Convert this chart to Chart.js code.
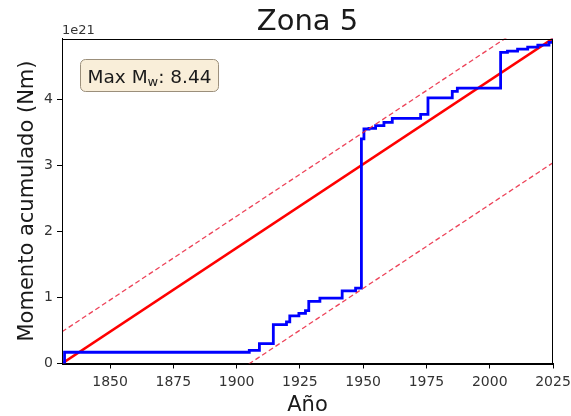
<!DOCTYPE html>
<html><head><meta charset="utf-8">
<script src="https://cdn.jsdelivr.net/npm/chart.js@4/dist/chart.umd.min.js"></script>
<style>html,body{margin:0;padding:0;background:#fff;} canvas{display:block;}</style>
</head><body>
<canvas id="c" width="571" height="416"></canvas>
<script>
// ---- data (moment in units of 1e21 Nm) ----
const stepYears   = [1831, 1832, 1905, 1909, 1914.5, 1919.7, 1921, 1924.6, 1927.2, 1928.5, 1932.9, 1941.7, 1947, 1949.3, 1950.3, 1952.3, 1954.9, 1958.2, 1961.5, 1972.7, 1975.6, 1985.2, 1987.2, 2004.3, 2007, 2011, 2015, 2019, 2023.4, 2025];
const stepMoments = [0, 0.17, 0.20, 0.30, 0.59, 0.63, 0.72, 0.76, 0.80, 0.94, 0.99, 1.10, 1.14, 3.40, 3.55, 3.56, 3.60, 3.65, 3.71, 3.77, 4.02, 4.12, 4.17, 4.71, 4.73, 4.76, 4.79, 4.82, 4.86, 4.92];
const trendYears  = [1831, 2025];
const trendValues = [0, 4.92];
const upperValues = [0.48, 5.40];
const lowerValues = [-1.88, 3.04];
const xTicks = [1850, 1875, 1900, 1925, 1950, 1975, 2000, 2025];
const yTicks = [0, 1, 2, 3, 4];
const titleText = 'Zona 5';
const xLabel = 'Año';
const yLabel = 'Momento acumulado (Nm)';
const offsetText = '1e21';
const boxMain = 'Max M';
const boxSub = 'w';
const boxTail = ': 8.44';

const FONT = '"DejaVu Sans", Verdana, sans-serif';
const pts = (xs, ys) => xs.map((x, i) => ({x: x, y: ys[i]}));

const decor = {
  id: 'decor',
  afterDraw(chart) {
    const ctx = chart.ctx, a = chart.chartArea;
    ctx.save();
    // frame
    ctx.strokeStyle = '#000'; ctx.lineWidth = 1;
    ctx.strokeRect(Math.round(a.left) + 0.5, Math.round(a.top) + 0.5, Math.round(a.right - a.left) - 1, Math.round(a.bottom - a.top));
    ctx.fillStyle = '#1a1a1a';
    // title
    ctx.font = '29px ' + FONT; ctx.textAlign = 'center'; ctx.textBaseline = 'alphabetic';
    ctx.fillText(titleText, (a.left + a.right) / 2, a.top - 9);
    // x label
    ctx.font = '21px ' + FONT;
    ctx.fillText(xLabel, (a.left + a.right) / 2, 411);
    // y label
    ctx.save();
    ctx.translate(33, (a.top + a.bottom) / 2);
    ctx.rotate(-Math.PI / 2);
    ctx.fillText(yLabel, 0, 0);
    ctx.restore();
    // offset text
    ctx.font = '13px ' + FONT; ctx.textAlign = 'left';
    ctx.fillStyle = '#333';
    ctx.fillText(offsetText, a.left, a.top - 5);
    // annotation box
    const fs = 18.5, sfs = 13;
    ctx.font = fs + 'px ' + FONT;
    const w1 = ctx.measureText(boxMain).width;
    const w3 = ctx.measureText(boxTail).width;
    ctx.font = sfs + 'px ' + FONT;
    const w2 = ctx.measureText(boxSub).width;
    const bx = a.left + 18, by = a.top + 20.5, bw = w1 + w2 + w3 + 14, bh = 32;
    ctx.beginPath();
    ctx.roundRect(bx + 0.5, by + 0.5, bw, bh, 5);
    ctx.fillStyle = '#f9eed9'; ctx.fill();
    ctx.strokeStyle = '#9b8f7b'; ctx.lineWidth = 1; ctx.stroke();
    ctx.fillStyle = '#1a1a1a';
    const base = by + 23.5;
    let tx = bx + 7.5;
    ctx.font = fs + 'px ' + FONT; ctx.fillText(boxMain, tx, base); tx += w1;
    ctx.font = sfs + 'px ' + FONT; ctx.fillText(boxSub, tx, base + 3.5); tx += w2;
    ctx.font = fs + 'px ' + FONT; ctx.fillText(boxTail, tx, base);
    ctx.restore();
  }
};

new Chart(document.getElementById('c'), {
  type: 'line',
  data: {
    datasets: [
      { data: pts(trendYears, upperValues), borderColor: 'rgba(235,45,70,0.9)', borderWidth: 1.3, borderDash: [5, 3], pointRadius: 0, fill: false },
      { data: pts(trendYears, lowerValues), borderColor: 'rgba(235,45,70,0.9)', borderWidth: 1.3, borderDash: [5, 3], pointRadius: 0, fill: false },
      { data: pts(stepYears, stepMoments), borderColor: '#0000ff', borderWidth: 2.8, stepped: 'before', pointRadius: 0, fill: false },
      { data: pts(trendYears, trendValues), borderColor: '#ff0000', borderWidth: 2.6, pointRadius: 0, fill: false }
    ]
  },
  options: {
    responsive: false, animation: false, devicePixelRatio: 1,
    layout: { padding: { top: 38.5, right: 18, left: 0, bottom: 0 } },
    plugins: { legend: { display: false }, tooltip: { enabled: false }, title: { display: false } },
    scales: {
      x: {
        type: 'linear', min: 1831, max: 2025,
        afterBuildTicks: s => { s.ticks = xTicks.map(v => ({ value: v })); },
        afterFit: s => { s.height = 52.5; s.paddingLeft = 0; s.paddingRight = 0; },
        grid: { drawOnChartArea: false, drawTicks: true, tickLength: 5, color: '#000' },
        border: { display: true, color: '#000', width: 1 },
        ticks: { padding: 5, autoSkip: false, maxRotation: 0, color: '#333', font: { family: FONT, size: 14 }, callback: v => String(v) }
      },
      y: {
        type: 'linear', min: 0, max: 4.92,
        afterBuildTicks: s => { s.ticks = yTicks.map(v => ({ value: v })); },
        afterFit: s => { s.width = 62; s.paddingTop = 0; s.paddingBottom = 0; },
        grid: { drawOnChartArea: false, drawTicks: true, tickLength: 5, color: '#000' },
        border: { display: true, color: '#000', width: 1 },
        ticks: { padding: 4, color: '#333', font: { family: FONT, size: 14 }, callback: v => String(v) }
      }
    }
  },
  plugins: [decor]
});
</script>
</body></html>
